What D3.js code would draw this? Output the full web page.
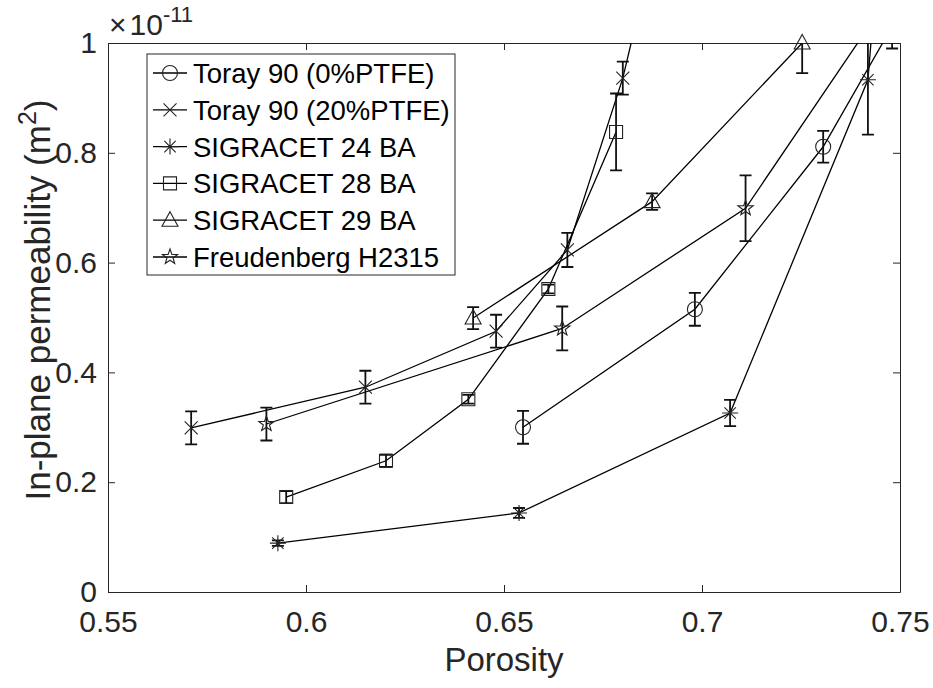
<!DOCTYPE html>
<html><head><meta charset="utf-8">
<script src="https://cdn.jsdelivr.net/npm/d3@7"></script>
<style>
html,body{margin:0;padding:0;background:#fff;}
svg{display:block;font-family:"Liberation Sans",Arial,sans-serif;}
</style></head>
<body><svg id="c" width="933" height="688"></svg>
<script>
// ---- data (porosity, permeability ×1e-11 m², error) ----
const seriesNames = ["Toray 90 (0%PTFE)","Toray 90 (20%PTFE)","SIGRACET 24 BA","SIGRACET 28 BA","SIGRACET 29 BA","Freudenberg H2315"];
const seriesMarkers = ["circle","x","asterisk","square","triangle","star"];

const toray0X   = [0.6548, 0.6982, 0.7306, 0.748];
const toray0Y   = [0.300, 0.515, 0.811, 1.03];
const toray0Err = [0.030, 0.030, 0.029, 0.040];

const toray20X   = [0.571, 0.615, 0.648, 0.666, 0.680, 0.692];
const toray20Y   = [0.299, 0.373, 0.475, 0.623, 0.936, 1.30];
const toray20Err = [0.030, 0.030, 0.030, 0.031, 0.030, 0.030];

const sgl24X   = [0.5929, 0.6538, 0.7071, 0.7419, 0.7455];
const sgl24Y   = [0.089, 0.144, 0.326, 0.933, 1.25];
const sgl24Err = [0.005, 0.009, 0.024, 0.100, 0.050];

const sgl28X   = [0.595, 0.6202, 0.641, 0.6612, 0.6783];
const sgl28Y   = [0.173, 0.239, 0.351, 0.552, 0.838];
const sgl28Err = [0.011, 0.011, 0.008, 0.008, 0.070];

const sgl29X   = [0.6422, 0.6874, 0.7253];
const sgl29Y   = [0.499, 0.711, 1.000];
const sgl29Err = [0.020, 0.015, 0.055];

const freudX   = [0.590, 0.6647, 0.711, 0.760];
const freudY   = [0.306, 0.480, 0.699, 1.22];
const freudErr = [0.030, 0.040, 0.060, 0.060];

const xTicks = [0.55, 0.6, 0.65, 0.7, 0.75];
const yTicks = [0, 0.2, 0.4, 0.6, 0.8, 1];
const xLabel = "Porosity";
const yLabelMain = "In-plane permeability (m";
const exponentLabel = "-11";

// ---- build ----
const raw = [[toray0X,toray0Y,toray0Err],[toray20X,toray20Y,toray20Err],[sgl24X,sgl24Y,sgl24Err],
             [sgl28X,sgl28Y,sgl28Err],[sgl29X,sgl29Y,sgl29Err],[freudX,freudY,freudErr]];
const series = raw.map((r,i)=>({name:seriesNames[i], marker:seriesMarkers[i],
  pts:r[0].map((xv,j)=>({x:xv,y:r[1][j],e:r[2][j]}))}));

const L=108,R=900,T=43,B=592;
const x = d3.scaleLinear().domain([0.55,0.75]).range([L,R]);
const y = d3.scaleLinear().domain([0,1]).range([B,T]);
const ink="#262626";
const svg = d3.select("#c");

svg.append("defs").append("clipPath").attr("id","clip")
  .append("rect").attr("x",L).attr("y",T).attr("width",R-L).attr("height",B-T);

function markerPath(type){
  const p=d3.path();
  if(type==="circle"){ p.moveTo(7.5,0); p.arc(0,0,7.5,0,2*Math.PI); }
  else if(type==="square"){ p.rect(-6.5,-6.5,13,13); }
  else if(type==="triangle"){ p.moveTo(0,-8.5); p.lineTo(8,6); p.lineTo(-8,6); p.closePath(); }
  else if(type==="x"){ p.moveTo(-6.5,-6.5);p.lineTo(6.5,6.5);p.moveTo(-6.5,6.5);p.lineTo(6.5,-6.5); }
  else if(type==="asterisk"){ p.moveTo(-8,0);p.lineTo(8,0);p.moveTo(0,-8);p.lineTo(0,8);
    p.moveTo(-5.7,-5.7);p.lineTo(5.7,5.7);p.moveTo(-5.7,5.7);p.lineTo(5.7,-5.7); }
  else if(type==="star"){
    for(let k=0;k<10;k++){ const r=k%2===0?8:3.2; const a=-Math.PI/2+k*Math.PI/5;
      const px=r*Math.cos(a), py=r*Math.sin(a); if(k===0)p.moveTo(px,py); else p.lineTo(px,py);} p.closePath(); }
  return p.toString();
}

// axes (box)
const gx = svg.append("g").attr("transform",`translate(0,${B})`)
  .call(d3.axisBottom(x).tickValues(xTicks).tickFormat(d=>String(d)).tickSize(-7).tickSizeOuter(0).tickPadding(19));
const gy = svg.append("g").attr("transform",`translate(${L},0)`)
  .call(d3.axisLeft(y).tickValues(yTicks).tickFormat(d=>String(d)).tickSize(-7).tickSizeOuter(0).tickPadding(11));
const gt = svg.append("g").attr("transform",`translate(0,${T})`)
  .call(d3.axisTop(x).tickValues(xTicks).tickFormat("").tickSize(-7).tickSizeOuter(0));
const gr = svg.append("g").attr("transform",`translate(${R},0)`)
  .call(d3.axisRight(y).tickValues(yTicks).tickFormat("").tickSize(-7).tickSizeOuter(0));
[gx,gy,gt,gr].forEach(g=>{
  g.selectAll("path.domain").attr("stroke",ink).attr("stroke-width",1);
  g.selectAll(".tick line").attr("stroke",ink).attr("stroke-width",1);
  g.selectAll(".tick text").attr("fill",ink).attr("font-size",30).attr("font-family","Liberation Sans, Arial, sans-serif");
});

// data
const plot = svg.append("g");
const clipped = plot.append("g").attr("clip-path","url(#clip)");
const line = d3.line().x(d=>x(d.x)).y(d=>y(d.y));
series.forEach(s=>{
  clipped.append("path").attr("d",line(s.pts)).attr("fill","none").attr("stroke","#000").attr("stroke-width",1.3);
  s.pts.forEach(d=>{
    const cx=x(d.x), y1=y(d.y-d.e), y2=y(d.y+d.e);
    const eb=d3.path(); eb.moveTo(cx,y1); eb.lineTo(cx,y2);
    eb.moveTo(cx-6,y1); eb.lineTo(cx+6,y1); eb.moveTo(cx-6,y2); eb.lineTo(cx+6,y2);
    clipped.append("path").attr("d",eb.toString()).attr("fill","none").attr("stroke","#111").attr("stroke-width",1.8);
  });
});
series.forEach(s=>{
  s.pts.filter(d=>d.x>=0.55&&d.x<=0.75&&d.y>=0&&d.y<=1.0001).forEach(d=>{
    plot.append("path").attr("transform",`translate(${x(d.x)},${y(d.y)})`).attr("d",markerPath(s.marker))
      .attr("fill","none").attr("stroke","#222").attr("stroke-width",1.1);
  });
});

// axis labels
svg.append("text").attr("x",(L+R)/2).attr("y",671).attr("text-anchor","middle")
  .attr("font-size",33).attr("fill",ink).text(xLabel);
const yl = svg.append("text").attr("transform",`translate(50,300) rotate(-90)`)
  .attr("text-anchor","middle").attr("font-size",35).attr("fill",ink);
yl.append("tspan").text(yLabelMain);
yl.append("tspan").attr("font-size",25).attr("dy",-14).text("2");
yl.append("tspan").attr("dy",14).text(")");

// exponent
const ex = svg.append("text").attr("x",109).attr("y",35).attr("fill",ink).attr("font-size",30);
ex.append("tspan").text("\u00d7");
ex.append("tspan").attr("dx",3).text("10");
ex.append("tspan").attr("font-size",22).attr("dy",-13).text(exponentLabel);

// legend
const lg = svg.append("g");
lg.append("rect").attr("x",147).attr("y",54).attr("width",308).attr("height",221)
  .attr("fill","#fff").attr("stroke",ink).attr("stroke-width",1);
series.forEach((s,i)=>{
  const cy=73+i*36.8;
  lg.append("line").attr("x1",153).attr("x2",187).attr("y1",cy).attr("y2",cy).attr("stroke","#000").attr("stroke-width",1.3);
  lg.append("path").attr("transform",`translate(170,${cy})`).attr("d",markerPath(s.marker))
    .attr("fill","none").attr("stroke","#222").attr("stroke-width",1.1);
  lg.append("text").attr("x",193).attr("y",cy).attr("dy","0.36em").attr("font-size",27.5).attr("fill","#000").text(s.name);
});
</script></body></html>
